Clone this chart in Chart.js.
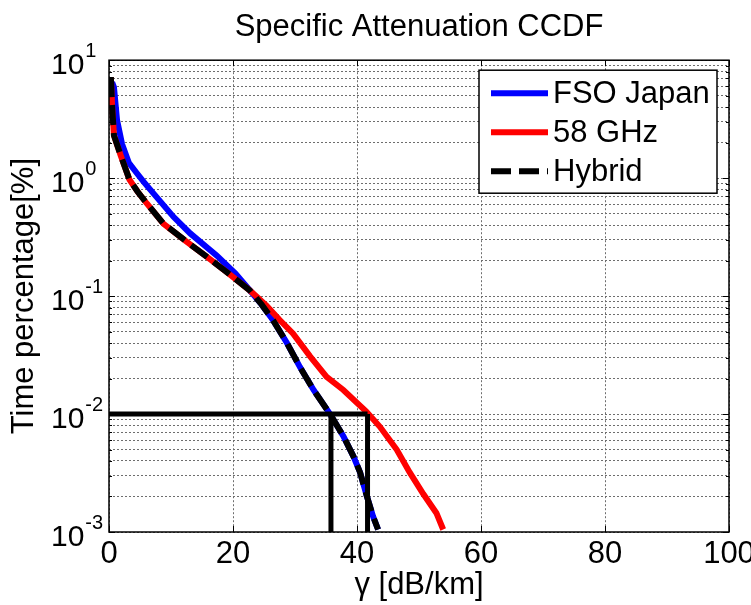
<!DOCTYPE html>
<html>
<head>
<meta charset="utf-8">
<script src="https://cdn.jsdelivr.net/npm/chart.js@4/dist/chart.umd.min.js"></script>
<style>
  html, body { margin: 0; background: #fff; }
  canvas { display: block; }
</style>
</head>
<body>
<canvas id="c" width="751" height="605"></canvas>
<script>
// values
const fsoX = [0.5, 0.8, 1.3, 2.1, 3.2, 4.5, 5.6, 7.2, 10.4, 13.1, 17.4, 20.4, 22.7, 24.6, 26.5, 28.7, 30.8, 33.0, 35.6, 37.8, 39.4, 40.5, 41.6, 42.6, 43.4];
const fsoY = [6.5, 5.9, 3.1, 1.95, 1.35, 1.1, 0.93, 0.74, 0.47, 0.34, 0.22, 0.155, 0.112, 0.085, 0.062, 0.040, 0.025, 0.016, 0.0101, 0.0065, 0.0044, 0.0032, 0.0020, 0.00135, 0.00105];

const ghzX = [0.3, 0.5, 0.8, 1.9, 3.3, 4.6, 6.1, 8.8, 12.5, 15.8, 19.0, 22.7, 25.4, 27.5, 29.7, 32.4, 35.1, 37.8, 41.5, 43.7, 46.4, 48.5, 50.7, 52.8, 53.9];
const ghzY = [7.2, 4.1, 2.3, 1.55, 0.97, 0.77, 0.61, 0.41, 0.29, 0.215, 0.16, 0.112, 0.083, 0.063, 0.048, 0.031, 0.0207, 0.016, 0.0105, 0.0078, 0.0050, 0.0032, 0.0021, 0.00145, 0.00105];

const hybX = [0.3, 0.5, 0.8, 1.9, 3.3, 4.6, 6.1, 8.8, 12.5, 15.8, 19.0, 22.7, 24.6, 26.5, 28.7, 30.8, 33.0, 35.6, 37.8, 39.4, 40.5, 41.6, 42.6, 43.4];
const hybY = [7.2, 4.1, 2.3, 1.55, 0.97, 0.77, 0.61, 0.41, 0.29, 0.215, 0.16, 0.112, 0.085, 0.062, 0.040, 0.025, 0.016, 0.0101, 0.0065, 0.0044, 0.0032, 0.0020, 0.00135, 0.00105];

// black reference lines at 0.01 %
const refHX = [0, 41.7], refHY = [0.01, 0.01];
const refAX = [41.7, 41.7], refAY = [0.01, 0.001];
const refBX = [35.8, 35.8], refBY = [0.01, 0.001];

const xTicks = [0, 20, 40, 60, 80, 100];
const yDecades = [-3, -2, -1, 0, 1];
const names = ['FSO Japan', '58 GHz', 'Hybrid'];

const FONT = "'Liberation Sans', Arial, sans-serif";
const pts = (xs, ys) => xs.map((x, i) => ({ x, y: ys[i] }));

const refLine = (xs, ys) => ({
  data: pts(xs, ys), borderColor: '#000', borderWidth: 5,
  pointRadius: 0, order: 0, fill: false
});

const styles = [
  { color: '#0000ff', dash: [] },
  { color: '#ff0000', dash: [] },
  { color: '#000000', dash: [20, 8] }
];

const frame = {
  id: 'frame',
  afterDatasetsDraw(chart) {
    const { ctx, chartArea: a, scales: { x, y } } = chart;
    ctx.save();
    ctx.strokeStyle = '#000';
    ctx.lineWidth = 1;
    ctx.beginPath();
    xTicks.forEach(v => {
      const px = Math.round(x.getPixelForValue(v)) + 0.5;
      ctx.moveTo(px, a.bottom); ctx.lineTo(px, a.bottom - 6);
      ctx.moveTo(px, a.top); ctx.lineTo(px, a.top + 6);
    });
    y.ticks.forEach(t => {
      const py = Math.round(y.getPixelForValue(t.value)) + 0.5;
      const major = Math.abs(Math.log10(t.value) % 1) < 1e-9;
      const len = major ? 6 : 3;
      ctx.moveTo(a.left, py); ctx.lineTo(a.left + len, py);
      ctx.moveTo(a.right, py); ctx.lineTo(a.right - len, py);
    });
    ctx.stroke();
    ctx.lineWidth = 1.5;
    ctx.strokeRect(a.left, a.top, a.right - a.left, a.bottom - a.top);

    // legend box
    const bw = 238, bh = 123;
    const bx = a.right - 12 - bw, by = a.top + 10;
    ctx.fillStyle = '#fff';
    ctx.fillRect(bx, by, bw, bh);
    ctx.lineWidth = 1.5;
    ctx.strokeRect(bx, by, bw, bh);
    ctx.font = '31px ' + FONT;
    ctx.textBaseline = 'middle';
    ctx.textAlign = 'left';
    names.forEach((n, i) => {
      const ly = by + 23 + i * 39;
      ctx.beginPath();
      ctx.lineWidth = 6;
      ctx.strokeStyle = styles[i].color;
      ctx.setLineDash(styles[i].dash);
      ctx.moveTo(bx + 12, ly); ctx.lineTo(bx + 69, ly);
      ctx.stroke();
      ctx.setLineDash([]);
      ctx.fillStyle = '#000';
      ctx.fillText(n, bx + 74, ly + 1);
    });
    ctx.restore();
  },
  afterDraw(chart) {
    const { ctx, scales: { y } } = chart;
    ctx.save();
    ctx.fillStyle = '#000';
    ctx.textAlign = 'left';
    ctx.textBaseline = 'alphabetic';
    yDecades.forEach(e => {
      const py = y.getPixelForValue(Math.pow(10, e));
      ctx.font = '30px ' + FONT;
      ctx.fillText('10', 51, py + 14);
      const w = ctx.measureText('10').width;
      ctx.font = '20px ' + FONT;
      ctx.fillText(String(e), 51 + w + 1, py - 3);
    });
    ctx.restore();
  }
};

new Chart(document.getElementById('c'), {
  type: 'line',
  data: {
    datasets: [
      refLine(refHX, refHY),
      refLine(refAX, refAY),
      refLine(refBX, refBY),
      { label: names[2], data: pts(hybX, hybY), borderColor: '#000', borderWidth: 6, borderDash: [20, 8], pointRadius: 0, order: 1 },
      { label: names[1], data: pts(ghzX, ghzY), borderColor: '#ff0000', borderWidth: 6, pointRadius: 0, order: 2 },
      { label: names[0], data: pts(fsoX, fsoY), borderColor: '#0000ff', borderWidth: 6, pointRadius: 0, order: 3 }
    ]
  },
  options: {
    responsive: false,
    animation: false,
    events: [],
    layout: { padding: { left: 0, right: 22, top: 0, bottom: 0 } },
    plugins: {
      legend: { display: false },
      tooltip: { enabled: false },
      title: {
        display: true, text: 'Specific Attenuation CCDF', color: '#000', fullSize: false,
        font: { family: FONT, size: 31, weight: 'normal' }, padding: { top: 9, bottom: 14 }
      }
    },
    scales: {
      x: {
        type: 'linear', min: 0, max: 100,
        afterBuildTicks: s => { s.ticks = xTicks.map(v => ({ value: v })); },
        afterFit: s => { s.height = 73; s.paddingLeft = 0; s.paddingRight = 0; },
        ticks: { color: '#000', font: { family: FONT, size: 31 }, padding: 4, maxRotation: 0, autoSkip: false },
        grid: { color: '#6e6e6e', lineWidth: 1, drawTicks: false },
        border: { display: false, dash: [2, 2] },
        title: { display: true, text: 'γ [dB/km]', color: '#000', font: { family: FONT, size: 31 }, padding: { top: 0, bottom: 1 } }
      },
      y: {
        type: 'logarithmic', min: 0.001, max: 10,
        afterBuildTicks: s => {
          const t = [];
          yDecades.slice(0, -1).forEach(e => { for (let k = 1; k < 10; k++) t.push({ value: k * Math.pow(10, e) }); });
          t.push({ value: 10 });
          s.ticks = t;
        },
        afterFit: s => { s.width = 109; },
        ticks: { display: false },
        grid: { color: '#6e6e6e', lineWidth: 1, drawTicks: false },
        border: { display: false, dash: [2, 2] },
        title: { display: true, text: 'Time percentage[%]', color: '#000', font: { family: FONT, size: 31 }, padding: { top: 6, bottom: 0 } }
      }
    }
  },
  plugins: [frame]
});
</script>
</body>
</html>
